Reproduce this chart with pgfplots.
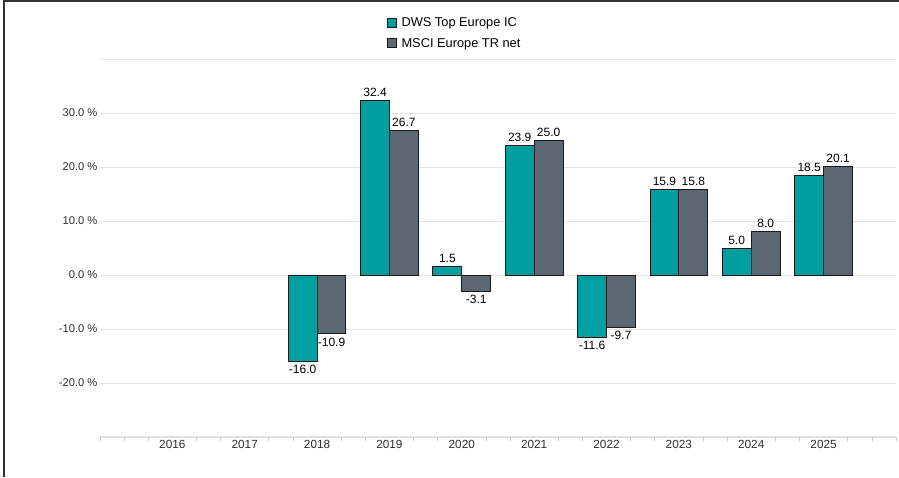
\documentclass[border=0pt]{standalone}
\usepackage{pgfplots}
\pgfplotsset{compat=1.18}
\usepackage{fontspec}
\setmainfont{Liberation Sans}
\definecolor{teal1}{HTML}{009E9E}
\definecolor{slate1}{HTML}{5B6873}
\begin{document}
\begin{tikzpicture}[x=1pt,y=1pt]
\useasboundingbox (0,0) rectangle (899,477);
\fill[white] (0,0) rectangle (899,477);
\draw[line width=1.6pt, black!80] (4,0) -- (4,476.2) -- (899,476.2);
\begin{axis}[
  at={(100pt,40pt)}, anchor=south west, scale only axis,
  width=796pt, height=378pt,
  ymin=-30, ymax=40, xmin=2015, xmax=2026,
  ybar=0pt, bar width=28.9pt,
  /pgf/number format/assume math mode=true,
  axis x line*=bottom, axis y line*=left,
  y axis line style={draw=none},
  x axis line style={draw=black!12, line width=2.5pt, -},
  major tick length=0pt,
  ytick={-20,-10,...,30},
  yticklabel={\pgfmathprintnumber[fixed,fixed zerofill,precision=1]{\tick}\ \%},
  yticklabel style={xshift=1pt, font=\fontsize{11.2}{13}\selectfont},
  extra y ticks={40}, extra y tick labels={},
  ymajorgrids, grid style={black!10, line width=0.8pt},
  xtick={2016,...,2025},
  xticklabel style={/pgf/number format/1000 sep={}, font=\fontsize{11.8}{13}\selectfont},
  tick label style={text=black!82},
  extra x ticks={2015,2015.333,2015.667,2016.333,2016.667,2017.333,2017.667,2018.333,2018.667,2019.333,2019.667,2020.333,2020.667,2021.333,2021.667,2022.333,2022.667,2023.333,2023.667,2024.333,2024.667,2025.333,2025.667,2026},
  extra x tick labels={},
  extra x tick style={major tick length=4pt, tick align=outside, tick style={draw=black!20, line width=0.8pt}},
  nodes near coords={\pgfmathprintnumber[fixed,fixed zerofill,precision=1]{\pgfplotspointmeta}},
  every node near coord/.append style={font=\fontsize{12}{14}\selectfont, text=black},
  legend style={at={(0.356,1.12)}, anchor=north west, draw=none, fill=none,
    font=\fontsize{12.8}{15}\selectfont, row sep=6pt, cells={anchor=west}},
  legend image code/.code={\draw[#1, draw=black!90, line width=1pt] (0pt,-4.5pt) rectangle (9pt,4.5pt);},
  legend style={nodes={inner xsep=5pt}},
]
\addplot[fill=teal1, draw=black!90, line width=1pt]
  coordinates {(2018,-16.0) (2019,32.4) (2020,1.5) (2021,23.9) (2022,-11.6) (2023,15.9) (2024,5.0) (2025,18.5)};
\addlegendentry{DWS Top Europe IC}
\addplot[fill=slate1, draw=black!90, line width=1pt]
  coordinates {(2018,-10.9) (2019,26.7) (2020,-3.1) (2021,25.0) (2022,-9.7) (2023,15.8) (2024,8.0) (2025,20.1)};
\addlegendentry{MSCI Europe TR net}
\end{axis}
\end{tikzpicture}
\end{document}
